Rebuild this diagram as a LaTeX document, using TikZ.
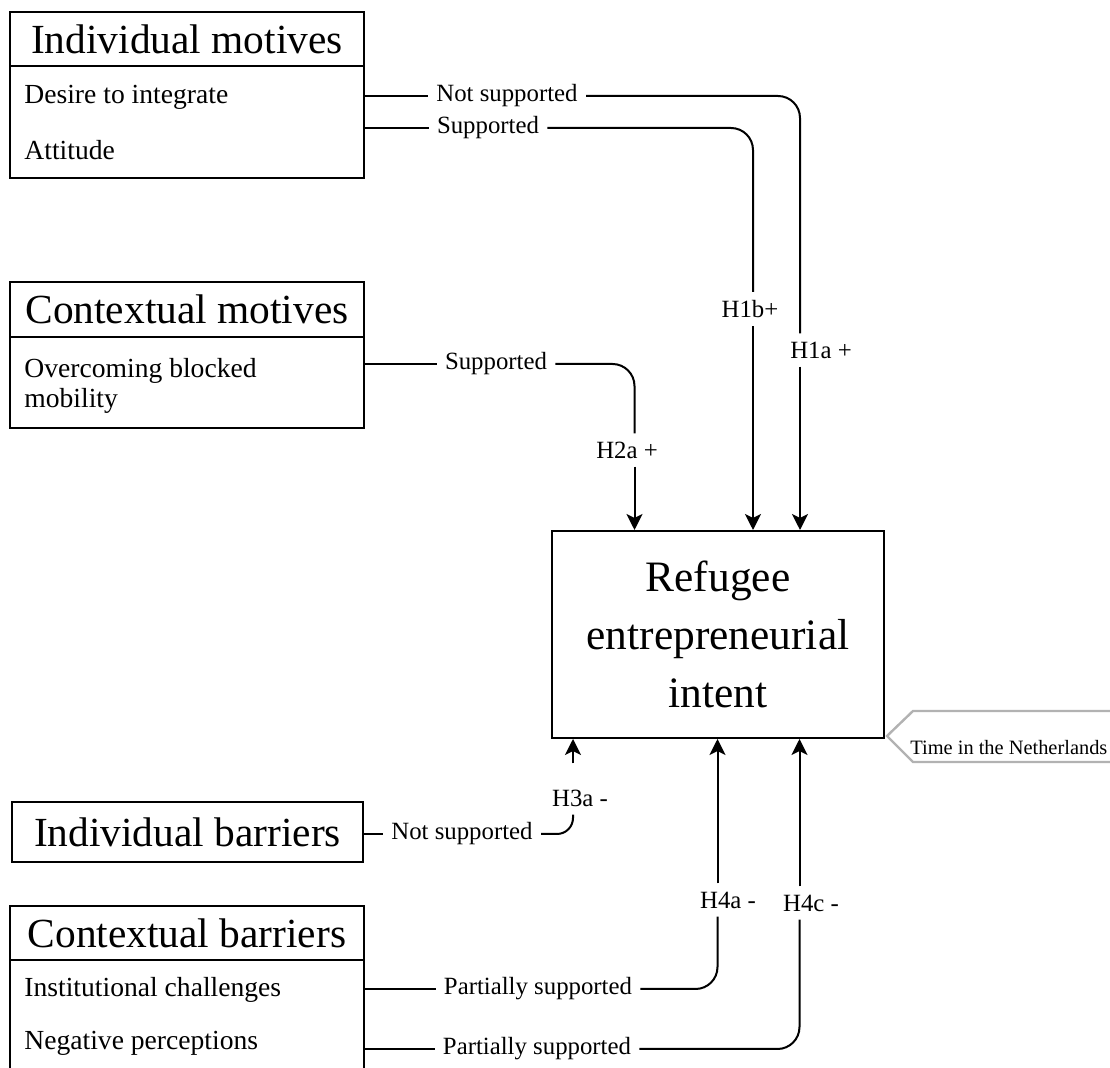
\documentclass[tikz,border=0pt]{standalone}
\usepackage{fontspec}
\setmainfont{Liberation Serif}
\usepackage{tikz}
\usetikzlibrary{arrows.meta,positioning}

\newcommand{\titlefont}{\fontsize{20.7}{24}\selectfont}
\newcommand{\itemfont}{\fontsize{13.8}{15}\selectfont}
\newcommand{\labelfont}{\fontsize{12.4}{14}\selectfont}
\newcommand{\intentfont}{\fontsize{21.7}{29}\selectfont}

\begin{document}
\begin{tikzpicture}[
    x=0.5pt, y=-0.5pt,
    head/.style={rectangle, draw, line width=1pt, outer sep=0pt, minimum width=177pt, minimum height=27pt, inner sep=0pt, font=\titlefont},
    body/.style={rectangle, draw, line width=1pt, outer sep=0pt, minimum width=177pt, inner sep=0pt},
    item/.style={anchor=west, inner sep=0pt, font=\itemfont, align=left},
    lbl/.style={inner sep=4pt, font=\labelfont},
    conn/.style={line width=1pt, rounded corners=11pt},
    arrow/.style={-{Stealth[length=8pt, width=8pt, inset=2pt]}, line width=1pt}
]
    \useasboundingbox (0,0) rectangle (1110,1068);
    \clip (0,0) rectangle (1110,1068);

    % Individual motives
    \node[head, anchor=north west] (imh) at (10,12) {Individual motives};
    \node[body, minimum height=56pt, below=0pt of imh] (imb) {};
    \node[item] (desire) at (24,97) {Desire to integrate};
    \node[item] (attitude) at (24,150) {Attitude};

    % Contextual motives
    \node[head, anchor=north west, minimum height=27.5pt] (cmh) at (10,282) {Contextual motives};
    \node[body, minimum height=45.5pt, below=0pt of cmh] (cmb) {};
    \node[item] (blocked) at (24,386) {Overcoming blocked\\mobility};

    % Individual barriers
    \node[head, anchor=north west, minimum width=175.5pt, minimum height=30pt] (ib) at (12,802) {Individual barriers};

    % Contextual barriers
    \node[head, anchor=north west] (cbh) at (10,906) {Contextual barriers};
    \node[body, minimum height=65pt, below=0pt of cbh] (cbb) {};
    \node[item] (inst) at (24,990) {Institutional challenges};
    \node[item] (negp) at (24,1043) {Negative perceptions};

    % Outcome
    \node[rectangle, draw, line width=1pt, minimum width=166pt, minimum height=103.5pt, align=center, font=\intentfont] (rei) at (718,634.5) {Refugee\\entrepreneurial\\intent};

    % Moderator
    \node[anchor=base west, inner sep=0pt, font=\fontsize{10.2}{12}\selectfont] (time) at (910,755) {Time in the Netherlands};
    \draw[gray!60, line width=1.2pt] (1115,711) -- (913,711) -- ([xshift=1pt,yshift=1.5pt]rei.south east) -- (913,762) -- (1115,762);

    % Results and hypotheses
    \node[lbl] (ns1) at (507,96) {Not supported};
    \node[lbl] (s1) at (488,128) {Supported};
    \node[lbl] (h1a) at (821,350) {H1a +};
    \node[lbl] (h1b) at (750,309) {H1b+};
    \node[lbl] (s2) at (496,364) {Supported};
    \node[lbl] (h2a) at (627,450) {H2a +};
    \node[lbl] (ns2) at (462,834) {Not supported};
    \node[lbl] (h3a) at (580,798) {H3a -};
    \node[lbl] (ps1) at (538,989) {Partially supported};
    \node[lbl] (ps2) at (537,1049) {Partially supported};
    \node[lbl] (h4a) at (728,900) {H4a -};
    \node[lbl] (h4c) at (811,903) {H4c -};

    % H1a
    \draw[conn] (imb.east |- ns1) -- (ns1);
    \draw[conn] (ns1) -| ([xshift=-10.5pt]h1a.north);
    \draw[arrow] ([xshift=-10.5pt]h1a.south) -- ([xshift=-10.5pt]h1a.south |- rei.north);

    % H1b
    \draw[conn] (imb.east |- s1) -- (s1);
    \draw[conn] (s1) -| ([xshift=1.5pt]h1b.north);
    \draw[arrow] ([xshift=1.5pt]h1b.south) -- ([xshift=1.5pt]h1b.south |- rei.north);

    % H2a
    \draw[conn] (cmb.east |- s2) -- (s2);
    \draw[conn] (s2) -| ([xshift=3.75pt]h2a.north);
    \draw[arrow] ([xshift=3.75pt]h2a.south) -- ([xshift=3.75pt]h2a.south |- rei.north);

    % H3a
    \draw[conn] (ib.east |- ns2) -- (ns2);
    \draw[conn, rounded corners=8pt] (ns2) -| ([xshift=-3.5pt]h3a.south);
    \draw[arrow] ([xshift=-3.5pt,yshift=9pt]h3a.north) -- ([xshift=-3.5pt]h3a.north |- rei.south);

    % H4a
    \draw[conn] (cbb.east |- ps1) -- (ps1);
    \draw[conn] (ps1) -| ([xshift=-5.25pt]h4a.south);
    \draw[arrow] ([xshift=-5.25pt]h4a.north) -- ([xshift=-5.25pt]h4a.north |- rei.south);

    % H4c
    \draw[conn] (cbb.east |- ps2) -- (ps2);
    \draw[conn] (ps2) -| ([xshift=-5.75pt]h4c.south);
    \draw[arrow] ([xshift=-5.75pt]h4c.north) -- ([xshift=-5.75pt]h4c.north |- rei.south);
\end{tikzpicture}
\end{document}
